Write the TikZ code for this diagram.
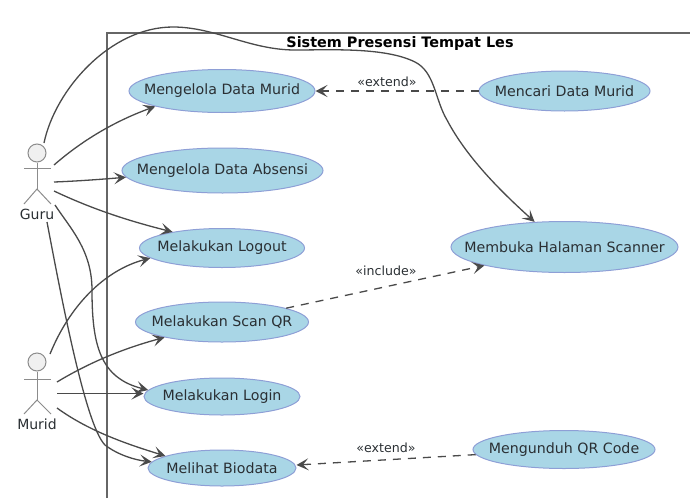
\documentclass[tikz,border=0pt]{standalone}
\usepackage{fontspec}
\setmainfont{DejaVu Sans}
\usetikzlibrary{shapes.geometric,arrows.meta}
\definecolor{ucfill}{HTML}{A9D6E6}
\definecolor{ucline}{HTML}{8E9FD6}
\definecolor{ink}{HTML}{2A2F33}
\definecolor{edge}{HTML}{4A4A4A}
\definecolor{stick}{HTML}{8C8C8C}
\newcommand{\uclabel}[1]{\makebox[0pt][c]{#1}}
\tikzset{
  usecase/.style={ellipse,draw=ucline,fill=ucfill,line width=1pt,inner sep=0pt,text=ink,font=\fontsize{14.2}{16}\selectfont},
  rel/.style={draw=edge,line width=1.3pt,-{Stealth[length=12pt,width=12pt,inset=5.5pt]}},
  reldash/.style={rel,dash pattern=on 8pt off 7pt},
  stereo/.style={text=ink,font=\fontsize{12.6}{14}\selectfont,inner sep=0pt},
  actorname/.style={text=ink,font=\fontsize{14}{16}\selectfont,inner sep=0pt},
  actorhead/.style={circle,draw=stick,fill=black!6,line width=1pt,minimum size=18pt,inner sep=0pt},
  limb/.style={draw=stick,line width=1pt},
  frame/.style={draw=black!60,line width=1.2pt}
}
\begin{document}
\begin{tikzpicture}[x=1pt,y=-1pt]
\useasboundingbox (0,0) rectangle (690,498);
% system frame
\draw[frame] (107,498) -- (107,33) -- (690,33);
\node[inner sep=0pt,text=black,font=\bfseries\fontsize{14.4}{16}\selectfont] (title) at (400,43.5) {Sistem Presensi Tempat Les};
% use cases
\node[usecase,minimum width=186pt,minimum height=43pt] (mdm) at (222,91) {\uclabel{Mengelola Data Murid}};
\node[usecase,minimum width=201pt,minimum height=45pt] (mda) at (222.5,170.5) {\uclabel{Mengelola Data Absensi}};
\node[usecase,minimum width=165pt,minimum height=39pt] (logout) at (222,248) {\uclabel{Melakukan Logout}};
\node[usecase,minimum width=173pt,minimum height=40pt] (scan) at (222,322) {\uclabel{Melakukan Scan QR}};
\node[usecase,minimum width=156pt,minimum height=37pt] (login) at (222,396.5) {\uclabel{Melakukan Login}};
\node[usecase,minimum width=148pt,minimum height=36pt] (bio) at (222,468) {\uclabel{Melihat Biodata}};
\node[usecase,minimum width=171pt,minimum height=40pt] (cari) at (564.5,91) {\uclabel{Mencari Data Murid}};
\node[usecase,minimum width=227pt,minimum height=51pt] (scanner) at (564.5,247) {\uclabel{Membuka Halaman Scanner}};
\node[usecase,minimum width=182pt,minimum height=38pt] (qr) at (564,449.5) {\uclabel{Mengunduh QR Code}};
% actors
\node[actorhead] (guruhead) at (37,153) {};
\coordinate (gc) at (37,189);
\draw[limb] (guruhead) -- (gc);
\draw[limb] (24,168.5) -- (51,168.5);
\draw[limb] (24,204) -- (gc) -- (51,204);
\node[actorname] (guru) at (37,214.5) {Guru};
\node[actorhead] (muridhead) at (37,362) {};
\coordinate (mc) at (37,400);
\draw[limb] (muridhead) -- (mc);
\draw[limb] (24,379) -- (51,379);
\draw[limb] (24,414) -- (mc) -- (51,414);
\node[actorname] (murid) at (37,424.5) {Murid};
% free ends at the actors
\coordinate (g1) at (54,165);
\coordinate (g2) at (54,182);
\coordinate (g3) at (54,191);
\coordinate (g4) at (44,143);
\coordinate (g5) at (55,205);
\coordinate (g6) at (47,222);
\coordinate (m1) at (50,354);
\coordinate (m2) at (57,382);
\coordinate (m3) at (57,393.5);
\coordinate (m4) at (57,408);
% guru edges
\draw[rel] (g1) .. controls (85,138) and (118,120) .. (mdm.193);
\draw[rel] (g2) .. controls (80,181) and (105,179) .. (mda.184);
\draw[rel] (g3) .. controls (90,208) and (125,220) .. (logout.162);
\draw[rel] (g4) .. controls (55,90) and (110,27) .. (173,27)
  .. controls (215,27) and (250,50) .. (295,50)
  .. controls (330,50) and (385,47) .. (415,62)
  .. controls (435,72) and (435,100) .. (447,120)
  .. controls (468,160) and (505,195) .. (scanner.140);
\draw[rel] (g5) .. controls (70,228) and (92,250) .. (92,290)
  .. controls (92,345) and (100,378) .. (login.175);
\draw[rel] (g6) .. controls (60,290) and (85,425) .. (105,445)
  .. controls (118,455) and (135,460) .. (bio.175);
% murid edges
\draw[rel] (m1) .. controls (70,305) and (105,270) .. (logout.188);
\draw[rel] (m2) .. controls (90,362) and (125,348) .. (scan.195);
\draw[rel] (m3) -- (login.west |- m3);
\draw[rel] (m4) .. controls (90,432) and (130,445) .. (bio.168);
% dependencies
\draw[reldash] (cari) -- (mdm);
\draw[reldash] (scan) -- (scanner.193);
\draw[reldash] (qr) -- (bio.east |- 0,465);
\node[stereo] (l1) at (387,82) {«extend»};
\node[stereo] (l2) at (386,271) {«include»};
\node[stereo] (l3) at (386,448) {«extend»};
\end{tikzpicture}
\end{document}
